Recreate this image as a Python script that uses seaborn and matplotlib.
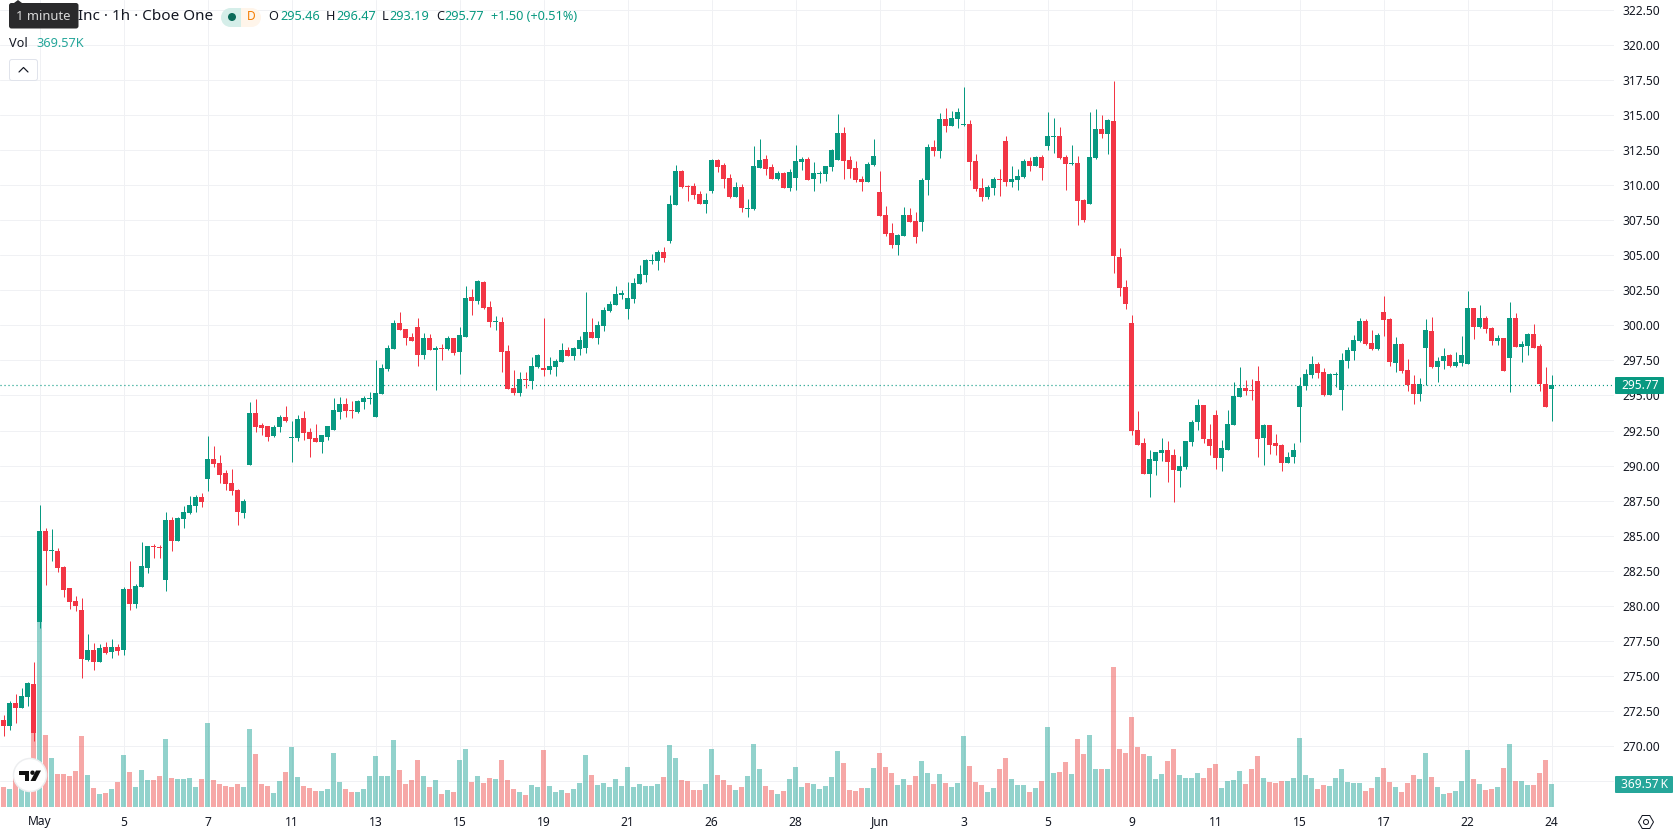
import matplotlib
matplotlib.use("Agg")
import matplotlib.pyplot as plt
from matplotlib.patches import Circle, FancyBboxPatch, Polygon, Rectangle
import numpy as np
import pandas as pd
import seaborn as sns

# Hourly candles, first bar index is -6 relative to the 1 May session open
opens = [
    271.88, 271.45, 273.09, 272.73, 273.53, 274.45, 278.82,
    285.36, 283.93, 283.93, 282.79, 281.30, 280.37, 279.73, 276.16, 276.88, 276.02,
    277.09, 276.73, 277.09, 276.88, 281.22, 280.16, 281.37, 282.72, 284.29, 284.22,
    281.87, 286.14, 284.65, 286.21, 286.64, 287.14, 287.78, 289.07, 290.49, 290.21,
    289.49, 288.78, 288.28, 286.64, 290.06, 293.77, 292.91, 292.84, 292.13, 292.77,
    293.48, 291.99, 291.99, 293.38, 292.39, 291.96, 291.67, 292.03, 292.53, 293.81,
    294.38, 293.95, 293.81, 294.52, 294.74, 293.46, 295.10, 296.88, 298.30, 300.16,
    299.73, 299.16, 299.87, 297.87, 299.09, 298.23, 298.37, 298.30, 299.09, 298.09,
    299.16, 302.01, 301.72, 303.08, 301.30, 300.23, 300.23, 298.16, 295.52, 295.17,
    296.16, 296.02, 297.02, 296.95, 296.81, 297.02, 297.38, 298.23, 297.80, 298.30,
    298.37, 299.51, 299.09, 299.94, 301.01, 301.44, 302.15, 301.15, 301.87, 302.94,
    303.58, 304.57, 304.57, 305.22, 306.00, 308.57, 310.99, 309.92, 309.92, 309.35,
    308.64, 309.56, 311.77, 311.42, 310.49, 309.14, 309.85, 308.28, 308.28, 311.20,
    311.85, 311.27, 310.42, 310.85, 309.78, 310.49, 311.63, 311.85, 310.42, 310.78,
    310.78, 311.31, 311.81, 313.73, 311.81, 311.24, 310.45, 310.24, 311.45, 309.52,
    307.89, 306.60, 305.75, 306.39, 307.89, 307.46, 307.39, 310.38, 312.73, 312.45,
    314.73, 314.23, 314.73, 314.30, 314.37, 311.73, 309.81, 309.17, 309.81, 310.45,
    313.16, 310.24, 310.38, 310.59, 311.73, 311.38, 312.02, 312.80, 313.45, 313.52,
    312.02, 311.52, 311.59, 308.95, 308.67, 311.95, 314.02, 313.66, 314.59, 304.89,
    302.72, 300.16, 292.53, 291.60, 289.39, 290.32, 290.89, 291.10, 290.75, 289.61,
    289.89, 291.67, 293.10, 294.31, 291.89, 293.60, 290.53, 291.10, 292.89, 294.88,
    295.52, 295.38, 296.02, 291.96, 292.89, 291.60, 291.46, 290.18, 290.60, 294.17,
    295.67, 296.45, 297.23, 296.66, 295.02, 296.45, 295.38, 297.45, 298.16, 298.87,
    300.30, 298.73, 298.30, 300.94, 300.44, 297.30, 298.66, 296.81, 295.81, 295.10,
    298.37, 299.59, 297.02, 297.45, 297.87, 297.09, 297.30, 297.23, 301.22, 299.87,
    300.51, 299.80, 298.87, 299.09, 297.66, 300.51, 298.44, 298.52, 299.37, 298.52,
    295.81, 295.46,
]
highs = [
    272.23, 273.20, 273.73, 274.17, 274.55, 276.02, 287.19,
    285.55, 285.50, 284.15, 282.86, 281.30, 280.73, 280.58, 278.02, 277.38, 277.30,
    277.45, 277.66, 277.30, 281.37, 283.22, 281.58, 284.57, 284.29, 284.43, 284.36,
    286.71, 286.36, 286.36, 287.14, 287.85, 287.92, 288.07, 292.13, 291.42, 290.78,
    289.71, 289.78, 288.35, 287.64, 294.55, 294.77, 293.06, 292.84, 292.91, 293.63,
    294.27, 293.20, 293.60, 293.88, 292.67, 292.96, 292.17, 292.81, 294.81, 294.88,
    294.81, 294.60, 294.67, 294.95, 295.24, 297.52, 297.23, 298.59, 300.37, 300.94,
    299.73, 299.44, 300.51, 299.44, 299.37, 298.52, 298.66, 299.23, 299.09, 299.87,
    302.79, 302.58, 303.22, 303.15, 301.72, 300.65, 300.58, 298.59, 296.81, 296.66,
    296.66, 297.73, 297.95, 300.51, 297.73, 297.59, 298.73, 298.45, 298.45, 299.23,
    302.37, 300.51, 300.30, 301.30, 301.72, 302.79, 302.51, 303.08, 303.36, 304.29,
    304.72, 305.07, 305.36, 305.57, 309.28, 311.42, 311.06, 309.99, 310.13, 309.56,
    309.42, 311.85, 311.85, 311.56, 310.78, 310.21, 310.06, 308.99, 312.77, 313.27,
    312.13, 311.49, 310.99, 310.92, 311.13, 312.84, 311.99, 311.99, 311.63, 310.99,
    311.35, 312.59, 315.08, 314.16, 312.09, 311.73, 310.67, 311.66, 313.30, 311.02,
    308.53, 307.32, 306.53, 308.46, 308.38, 308.10, 310.52, 312.95, 313.23, 315.16,
    315.51, 315.30, 315.51, 317.01, 314.66, 312.23, 310.52, 310.02, 310.59, 311.16,
    313.52, 311.38, 311.16, 311.88, 312.02, 312.09, 312.16, 315.23, 314.80, 314.16,
    312.16, 312.87, 312.09, 309.03, 315.23, 315.44, 315.01, 314.73, 317.44, 305.53,
    303.22, 300.73, 293.88, 291.96, 291.10, 290.96, 291.96, 291.75, 291.17, 290.68,
    291.75, 293.24, 294.74, 294.31, 292.96, 293.95, 291.82, 293.95, 295.95, 297.02,
    296.09, 296.16, 297.09, 292.96, 292.89, 292.24, 291.53, 290.96, 291.60, 296.31,
    296.88, 297.80, 297.38, 296.95, 296.59, 296.66, 298.02, 298.45, 299.30, 300.51,
    300.44, 299.66, 299.44, 302.08, 300.51, 299.16, 298.73, 297.59, 296.45, 296.24,
    300.44, 300.58, 297.73, 298.37, 297.95, 298.09, 299.23, 302.44, 301.22, 301.44,
    300.65, 299.87, 299.30, 299.09, 301.65, 300.87, 298.87, 299.44, 300.08, 298.66,
    297.02, 296.47,
]
lows = [
    270.76, 271.16, 271.66, 272.73, 272.83, 270.40, 278.40,
    281.46, 283.22, 282.44, 280.65, 279.80, 279.66, 274.88, 276.09, 275.45, 276.02,
    276.59, 276.31, 276.52, 276.52, 279.73, 279.87, 281.37, 282.37, 283.43, 283.43,
    281.08, 283.93, 284.65, 285.57, 286.57, 286.71, 287.07, 288.21, 289.92, 288.78,
    288.28, 287.92, 285.79, 286.29, 290.06, 292.42, 292.20, 291.77, 292.06, 292.42,
    293.13, 290.28, 291.75, 291.82, 290.60, 291.67, 290.89, 291.82, 292.53, 293.31,
    293.46, 293.38, 293.74, 294.03, 294.38, 293.46, 295.10, 296.73, 298.30, 299.66,
    298.59, 298.87, 297.09, 297.59, 298.23, 295.38, 297.52, 298.23, 297.87, 296.52,
    299.16, 300.73, 301.51, 301.15, 299.87, 299.66, 296.66, 295.45, 295.02, 294.95,
    295.52, 295.45, 296.95, 296.38, 296.52, 296.38, 297.38, 297.80, 297.52, 297.87,
    298.02, 299.09, 298.66, 299.59, 300.94, 301.44, 301.87, 300.44, 301.58, 302.94,
    303.08, 304.36, 303.93, 304.50, 305.86, 308.57, 309.78, 308.85, 308.99, 308.64,
    308.00, 309.42, 310.92, 309.78, 309.07, 309.14, 308.07, 307.71, 308.21, 311.20,
    310.70, 310.42, 310.35, 309.78, 309.56, 309.64, 311.06, 310.35, 309.56, 310.13,
    310.28, 311.02, 311.81, 310.45, 310.52, 310.24, 309.60, 310.24, 311.38, 307.81,
    306.39, 305.53, 305.03, 306.39, 307.39, 305.89, 306.75, 309.31, 312.09, 311.95,
    313.80, 314.23, 314.09, 314.23, 310.38, 309.60, 308.88, 309.03, 309.31, 309.24,
    309.95, 309.88, 309.67, 310.52, 311.02, 311.38, 310.38, 312.52, 312.30, 311.88,
    309.67, 311.45, 307.17, 307.39, 308.67, 311.88, 313.37, 312.23, 303.75, 302.11,
    301.15, 292.17, 291.46, 289.39, 287.75, 289.32, 290.32, 288.82, 287.40, 288.47,
    289.75, 291.39, 292.53, 291.60, 290.75, 289.75, 289.61, 291.10, 292.89, 294.88,
    295.02, 294.67, 290.60, 290.03, 290.82, 290.75, 289.61, 290.18, 290.18, 291.67,
    295.38, 296.24, 296.24, 294.95, 295.02, 295.59, 293.95, 296.95, 297.52, 298.80,
    298.59, 298.23, 298.23, 299.23, 297.09, 296.66, 296.59, 295.31, 294.38, 294.60,
    295.74, 296.95, 295.95, 296.88, 297.02, 297.02, 297.09, 297.23, 299.02, 299.80,
    299.44, 298.59, 298.59, 296.73, 295.24, 298.44, 297.38, 297.87, 298.37, 295.31,
    294.17, 293.19,
]
closes = [
    271.47, 273.09, 272.73, 273.60, 274.52, 270.97, 285.36,
    283.89, 284.00, 282.72, 281.15, 280.30, 280.01, 276.24, 276.88, 276.02, 277.02,
    276.64, 277.09, 276.81, 281.22, 280.16, 281.44, 282.86, 284.29, 284.22, 284.15,
    286.14, 284.65, 286.29, 286.71, 287.21, 287.78, 287.43, 290.49, 290.13, 289.35,
    288.71, 288.21, 286.71, 287.50, 293.77, 292.77, 292.70, 292.06, 292.77, 293.48,
    293.20, 292.06, 293.31, 292.32, 291.89, 291.67, 292.17, 292.81, 293.95, 294.38,
    293.88, 293.88, 294.60, 294.81, 294.81, 295.17, 296.95, 298.37, 300.16, 299.66,
    299.09, 298.87, 297.87, 299.09, 298.23, 298.37, 298.30, 299.09, 298.02, 299.30,
    301.94, 301.72, 303.15, 301.22, 300.23, 300.30, 298.09, 295.45, 295.17, 296.16,
    296.09, 297.09, 297.87, 296.81, 297.09, 297.45, 298.23, 297.80, 298.37, 298.94,
    299.51, 299.09, 300.01, 301.08, 301.51, 302.22, 302.29, 301.94, 303.01, 303.65,
    304.65, 304.65, 305.22, 304.79, 308.64, 310.99, 309.85, 309.85, 309.28, 308.64,
    308.92, 311.77, 311.27, 310.42, 309.14, 309.85, 308.35, 308.35, 311.35, 311.77,
    311.13, 310.42, 310.85, 309.78, 310.92, 311.70, 311.85, 310.35, 310.85, 310.85,
    311.35, 312.52, 313.73, 311.73, 311.16, 310.38, 310.24, 311.52, 312.09, 307.81,
    306.53, 305.75, 306.46, 307.89, 307.39, 306.32, 310.38, 312.73, 312.45, 314.73,
    314.23, 314.80, 315.23, 314.37, 311.66, 309.74, 309.17, 309.88, 310.45, 310.38,
    310.24, 310.45, 310.67, 311.73, 311.38, 312.02, 311.24, 313.52, 313.52, 311.95,
    311.52, 311.59, 308.88, 307.53, 312.02, 314.02, 313.66, 314.66, 304.96, 302.68,
    301.51, 292.46, 291.46, 289.39, 290.46, 290.96, 291.10, 290.25, 289.68, 289.96,
    291.75, 293.10, 294.31, 291.89, 291.39, 290.53, 291.25, 292.96, 294.95, 295.52,
    295.31, 295.31, 291.89, 292.89, 291.46, 291.39, 290.18, 290.60, 291.10, 295.67,
    296.52, 297.23, 296.59, 295.02, 296.52, 296.52, 297.52, 298.23, 298.94, 300.30,
    298.66, 298.30, 299.30, 300.37, 297.38, 298.66, 296.73, 295.74, 295.10, 295.81,
    299.66, 297.02, 297.45, 297.80, 297.09, 297.38, 297.87, 301.22, 299.87, 300.51,
    299.73, 298.87, 299.09, 296.73, 300.51, 298.44, 298.66, 299.37, 298.37, 295.81,
    294.17, 295.77,
]
# Share volume per bar, in thousands
volumes = [
    321, 289, 546, 386, 273, 1366, 3326,
    1157, 787, 530, 530, 498, 579, 1141, 514, 305, 209,
    225, 289, 402, 836, 562, 321, 595, 434, 434, 498,
    1093, 466, 450, 450, 466, 321, 450, 1350, 434, 370,
    337, 321, 370, 321, 1253, 852, 370, 337, 225, 418,
    562, 964, 482, 337, 305, 257, 257, 289, 868, 402,
    289, 241, 241, 289, 498, 820, 498, 498, 1077, 595,
    370, 434, 755, 498, 321, 434, 209, 273, 241, 755,
    932, 402, 498, 386, 466, 450, 755, 434, 289, 241,
    193, 354, 321, 916, 337, 241, 273, 225, 289, 386,
    836, 514, 354, 386, 321, 450, 337, 643, 321, 370,
    337, 337, 370, 482, 996, 787, 434, 418, 273, 273,
    370, 932, 514, 434, 354, 273, 321, 498, 1012, 611,
    337, 273, 209, 257, 450, 643, 321, 386, 370, 289,
    337, 482, 900, 707, 273, 257, 305, 305, 627, 868,
    643, 546, 354, 450, 354, 498, 739, 546, 370, 530,
    386, 321, 386, 1141, 659, 402, 354, 241, 305, 611,
    787, 450, 354, 354, 241, 305, 418, 1286, 546, 562,
    723, 530, 1093, 852, 1157, 611, 611, 611, 2250, 932,
    868, 1446, 964, 852, 820, 450, 530, 739, 932, 514,
    466, 466, 546, 466, 627, 691, 305, 418, 434, 579,
    370, 611, 820, 466, 402, 386, 418, 418, 466, 1109,
    514, 466, 289, 354, 337, 466, 611, 402, 386, 386,
    257, 305, 482, 627, 402, 321, 241, 386, 514, 450,
    868, 482, 321, 209, 225, 257, 418, 916, 450, 370,
    273, 289, 321, 627, 1012, 418, 418, 354, 354, 546,
    755, 369.57,
]
day_ticks = [0, 14, 28, 42, 56, 70, 84, 98, 112, 126, 140, 154, 168, 182, 196, 210, 224, 238, 252]
day_labels = ["May", "5", "7", "11", "13", "15", "19", "21", "26", "28", "Jun",
              "3", "5", "9", "11", "15", "17", "22", "24"]
month_labels = {"May", "Jun"}
price_ticks = [267.5 + 2.5 * i for i in range(23)]
last_price = 295.77
last_volume_text = "369.57\u2009K"

UP = "#089981"
DOWN = "#F23645"
VOL_UP = "#26A69A"
VOL_DOWN = "#EF5350"
GRID = "#F0F1F4"
TEXT = "#131722"
FONT = ["Noto Sans", "DejaVu Sans"]
W, H = 1678, 835
PLOT_RIGHT, PLOT_BOTTOM = 1614, 807
FIRST_BAR_PX = 39.5
PX = 72 / 100  # points per pixel at 100 dpi

sns.set_theme(style="white")
plt.rcParams["font.family"] = FONT

bars = pd.DataFrame({"open": opens, "high": highs, "low": lows, "close": closes, "volume": volumes})
bars["bar"] = np.arange(len(bars)) - 6
bars["rising"] = bars["close"] >= bars["open"]

fig = plt.figure(figsize=(W / 100, H / 100), dpi=100, facecolor="white")
rect = [0, 1 - PLOT_BOTTOM / H, PLOT_RIGHT / W, PLOT_BOTTOM / H]
xlim = (-FIRST_BAR_PX / 6, (PLOT_RIGHT - FIRST_BAR_PX) / 6)
ylim = (300 - (PLOT_BOTTOM - 325.3) / 14.03, 300 + 325.3 / 14.03)

# Back layer: price scale, time scale and grid
ax_scale = fig.add_axes(rect, zorder=1)
ax_scale.set_xlim(xlim)
ax_scale.set_ylim(ylim)
ax_scale.set_xticks(day_ticks)
ax_scale.set_xticklabels(day_labels)
ax_scale.yaxis.tick_right()
ax_scale.set_yticks(price_ticks)
ax_scale.set_yticklabels(["" if p < 270 else f"{p:.2f}" for p in price_ticks])
ax_scale.tick_params(axis="both", length=0, labelsize=12 * PX, labelcolor=TEXT)
ax_scale.tick_params(axis="x", pad=8.5 * PX)
ax_scale.tick_params(axis="y", pad=8 * PX)
for label_item in ax_scale.get_xticklabels():
    if label_item.get_text() in month_labels:
        label_item.set_fontweight("bold")
for label_item in ax_scale.get_yticklabels():
    text = label_item.get_text()
    if text and float(text) % 5 == 0:
        label_item.set_fontweight("bold")
ax_scale.grid(True, color=GRID, linewidth=1 * PX)
ax_scale.set_axisbelow(True)
for spine in ax_scale.spines.values():
    spine.set_visible(False)

# Volume pane sits at the bottom on its own scale
ax_volume = fig.add_axes(rect, zorder=2)
ax_volume.patch.set_alpha(0)
sns.barplot(data=bars, x="bar", y="volume", hue="rising", palette={True: VOL_UP, False: VOL_DOWN},
            dodge=False, native_scale=True, width=5 / 6, alpha=0.5, saturation=1,
            linewidth=0, legend=False, ax=ax_volume)
ax_volume.set_xlim(xlim)
ax_volume.set_ylim(0, PLOT_BOTTOM * 16.07)
ax_volume.axis("off")

# Front layer: last-price line and candles
ax_candle = fig.add_axes(rect, zorder=3)
ax_candle.patch.set_alpha(0)
ax_candle.set_xlim(xlim)
ax_candle.set_ylim(ylim)
ax_candle.axhline(last_price, color=UP, linewidth=1.2 * PX, linestyle=(0, (0.9, 2.43)), zorder=1)
colors = np.where(bars["rising"], UP, DOWN)
ax_candle.vlines(bars["bar"], bars["low"], bars["high"], colors=colors, linewidth=1 * PX, zorder=2)
body_low = bars[["open", "close"]].min(axis=1)
body_size = (bars["open"] - bars["close"]).abs()
ax_candle.bar(bars["bar"], body_size, bottom=body_low, width=5 / 6, color=colors, linewidth=0, zorder=3)
ax_candle.axis("off")

# Chart furniture, laid out in screen pixels
ui = fig.add_axes([0, 0, 1, 1], zorder=5)
ui.set_xlim(0, W)
ui.set_ylim(H, 0)
ui.axis("off")


def label(x, y, s, size=12, color=TEXT, ha="left", weight="normal"):
    ui.text(x, y, s, fontsize=size * PX, color=color, ha=ha, va="center", fontweight=weight, family=FONT)


label(78, 17, "Inc \u00b7 1h \u00b7 Cboe One", size=15.3)
ui.add_patch(Rectangle((230, 8), 11, 19, fc="#D5EEE9", ec="none"))
ui.add_patch(Circle((230.5, 17.5), 9.5, fc="#D5EEE9", ec="none"))
ui.add_patch(Rectangle((241, 8), 11, 19, fc="#FFF5EA", ec="none"))
ui.add_patch(Circle((251.5, 17.5), 9.5, fc="#FFF5EA", ec="none"))
ui.add_patch(Circle((232, 17), 4, fc="#0B6B5A", ec="none"))
label(251, 17, "D", size=12, color="#F57C00", ha="center", weight="bold")
for x_key, key, x_val, val in [(268.5, "O", 280, "295.46"), (325.5, "H", 336, "296.47"),
                               (382, "L", 389, "293.19"), (436, "C", 444.5, "295.77")]:
    label(x_key, 17, key, size=12.7)
    label(x_val, 17, val, size=12.7, color=UP)
label(491, 17, "+1.50 (+0.51%)", size=12.7, color=UP)
label(9, 43.5, "Vol", size=12.7)
label(36.8, 43.5, "369.57K", size=12.7, color=VOL_UP)
ui.add_patch(FancyBboxPatch((9.5, 59.5), 28, 21, boxstyle="round,pad=0,rounding_size=2.5",
                            fc="white", ec="#E0E3EB", linewidth=1 * PX))
ui.plot([19, 23.5, 28], [72, 67.5, 72], color=TEXT, linewidth=1.2 * PX, solid_capstyle="round")

# Tooltip over the symbol name
ui.add_patch(FancyBboxPatch((9, 3), 69.5, 25.5, boxstyle="round,pad=0,rounding_size=2.5", fc="#2A2A2C", ec="none"))
ui.add_patch(Polygon([[14, 3], [18, 0], [22, 3]], closed=True, fc="#2A2A2C", ec="none"))
label(43.5, 16.5, "1 minute", size=13, color="#D8D8D8", ha="center")

# Last price and last volume tags on the scale
ui.add_patch(FancyBboxPatch((1615, 377), 49, 17, boxstyle="round,pad=0,rounding_size=1", fc=UP, ec="none"))
label(1640, 385.5, f"{last_price:.2f}", size=12, color="white", ha="center")
ui.add_patch(FancyBboxPatch((1615, 776), 58, 17, boxstyle="round,pad=0,rounding_size=1", fc=VOL_UP, ec="none"))
label(1644.5, 784.5, last_volume_text, size=12, color="white", ha="center")

# Watermark badge in the lower left
ui.add_patch(Circle((30, 775), 16.5, fc="white", ec="#EDEEF0", linewidth=1.5 * PX))
ui.add_patch(Polygon([[19, 770.5], [29, 770.5], [29, 781], [24.5, 781], [24.5, 775], [19, 775]],
                     closed=True, fc="#111111", ec="none"))
ui.add_patch(Circle((32.5, 772.7), 2.2, fc="#111111", ec="none"))
ui.add_patch(Polygon([[36, 770.5], [41, 770.5], [35.5, 781], [30.5, 781]], closed=True, fc="#111111", ec="none"))

# Settings button under the price scale
theta = np.deg2rad(np.arange(0, 360, 60))
ui.add_patch(Polygon(np.column_stack([1646 + 7.5 * np.cos(theta), 822 + 7.5 * np.sin(theta)]),
                     closed=True, fc="white", ec=TEXT, linewidth=1 * PX))
ui.add_patch(Circle((1646, 822), 2.5, fc="white", ec=TEXT, linewidth=1 * PX))

fig.savefig("out.png", dpi=100)
